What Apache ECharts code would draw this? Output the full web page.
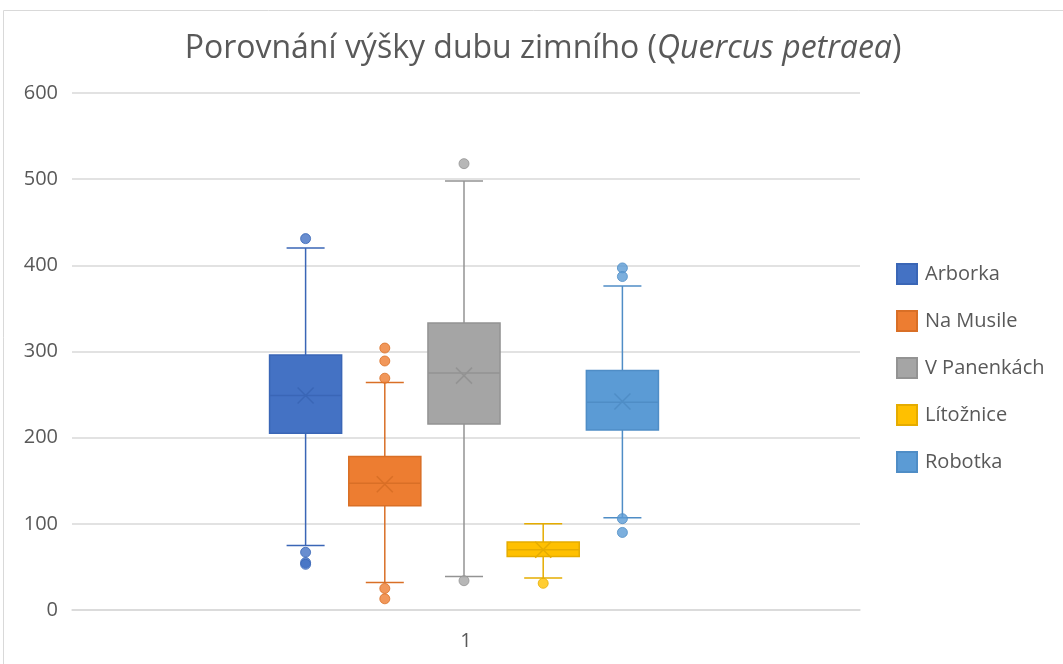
<!DOCTYPE html>
<html>
<head>
<meta charset="utf-8">
<script src="https://cdn.jsdelivr.net/npm/echarts@6/dist/echarts.min.js"></script>
<style>
  html, body { margin: 0; padding: 0; background: #fff; }
  #chart { width: 1063px; height: 664px; }
</style>
</head>
<body>
<div id="chart"></div>
<script>
// data
const sites = ['Arborka', 'Na Musile', 'V Panenkách', 'Lítožnice', 'Robotka'];
const lowWhisker = [75, 32, 39, 37, 107];
const q1 = [205, 121, 216, 62, 209];
const median = [249, 147, 275, 70, 241];
const q3 = [296, 178, 333, 79, 278];
const highWhisker = [420, 264, 498, 100, 376];
const means = [249, 146, 272, 70, 242];
const outliers = [
  [431, 67, 55, 53],
  [304, 289, 269, 25, 13],
  [518, 34],
  [31],
  [397, 387, 106, 90]
];
const xLabels = ['1'];
const yTicks = { min: 0, max: 600, interval: 100 };

const fills = ['#4472C4', '#ED7D31', '#A5A5A5', '#FFC000', '#5B9BD5'];
const strokes = ['#3a66b6', '#d96f26', '#939393', '#e5ac00', '#4f8dc6'];
const txt = '#595959';
const font = '"Open Sans", "Noto Sans", sans-serif';

function makeRender(i) {
  return function (params, api) {
    const c = api.value(0);
    const cx = api.coord([c, 0])[0];
    const y = v => api.coord([c, v])[1];
    const yLo = y(api.value(1)), yQ1 = y(api.value(2)), yMd = y(api.value(3));
    const yQ3 = y(api.value(4)), yHi = y(api.value(5)), yMn = y(api.value(6));
    const band = api.size([1, 0])[0];
    const half = band * 0.455, cap = band * 0.24, xs = 8;
    const ln = { stroke: strokes[i], lineWidth: 1.5 };
    return {
      type: 'group',
      children: [
        { type: 'line', shape: { x1: cx, y1: yHi, x2: cx, y2: yQ3 }, style: ln },
        { type: 'line', shape: { x1: cx, y1: yQ1, x2: cx, y2: yLo }, style: ln },
        { type: 'line', shape: { x1: cx - cap, y1: yHi, x2: cx + cap, y2: yHi }, style: ln },
        { type: 'line', shape: { x1: cx - cap, y1: yLo, x2: cx + cap, y2: yLo }, style: ln },
        { type: 'rect', shape: { x: cx - half, y: yQ3, width: half * 2, height: yQ1 - yQ3 },
          style: { fill: fills[i], stroke: strokes[i], lineWidth: 1.5 } },
        { type: 'line', shape: { x1: cx - half, y1: yMd, x2: cx + half, y2: yMd }, style: ln },
        { type: 'line', shape: { x1: cx - xs, y1: yMn - xs, x2: cx + xs, y2: yMn + xs }, style: ln },
        { type: 'line', shape: { x1: cx - xs, y1: yMn + xs, x2: cx + xs, y2: yMn - xs }, style: ln }
      ]
    };
  };
}

const series = [];
sites.forEach(function (name, i) {
  series.push({
    name: name,
    type: 'custom',
    xAxisIndex: 1,
    yAxisIndex: 1,
    itemStyle: { color: fills[i], borderColor: strokes[i], borderWidth: 1 },
    encode: { x: 0, y: [1, 2, 3, 4, 5, 6] },
    data: [[i, lowWhisker[i], q1[i], median[i], q3[i], highWhisker[i], means[i]]],
    renderItem: makeRender(i),
    z: 2
  });
  series.push({
    name: name,
    type: 'scatter',
    xAxisIndex: 1,
    yAxisIndex: 1,
    symbolSize: 10,
    itemStyle: { color: fills[i], borderColor: strokes[i], borderWidth: 1 },
    data: outliers[i].map(v => [i, v]),
    z: 3
  });
});

const chart = echarts.init(document.getElementById('chart'), null, { renderer: 'canvas' });
chart.setOption({
  animation: false,
  textStyle: { fontFamily: font },
  title: {
    text: '{n|Porovnání výšky dubu zimního (}{i|Quercus petraea}{n|)}',
    left: 538,
    top: 28,
    textAlign: 'center',
    textStyle: {
      fontWeight: 'normal',
      rich: {
        n: { fontSize: 32, color: txt, fontFamily: font, fontWeight: 'normal' },
        i: { fontSize: 32, color: txt, fontFamily: font, fontWeight: 'normal', fontStyle: 'italic' }
      }
    }
  },
  legend: {
    orient: 'vertical',
    left: 896,
    top: 263,
    padding: 0,
    itemWidth: 20,
    itemHeight: 20,
    itemGap: 25,
    icon: 'rect',
    data: sites,
    textStyle: { color: txt, fontSize: 20, fontFamily: font, padding: [0, 0, 0, 3] }
  },
  grid: [
    { left: 72, right: 203, top: 93, bottom: 54 },
    { left: 266, width: 396, top: 93, bottom: 54 }
  ],
  xAxis: [
    {
      type: 'category', gridIndex: 0, data: xLabels,
      axisLine: { lineStyle: { color: '#d9d9d9', width: 1.5 } },
      axisTick: { show: false },
      axisLabel: { color: txt, fontSize: 20, margin: 21 }
    },
    { type: 'category', gridIndex: 1, data: sites, show: false }
  ],
  yAxis: [
    {
      type: 'value', gridIndex: 0, min: yTicks.min, max: yTicks.max, interval: yTicks.interval,
      axisLine: { show: false }, axisTick: { show: false },
      axisLabel: { color: txt, fontSize: 20, margin: 14 },
      splitLine: { lineStyle: { color: '#d9d9d9', width: 1.5 } }
    },
    { type: 'value', gridIndex: 1, min: yTicks.min, max: yTicks.max, show: false, splitLine: { show: false } }
  ],
  graphic: [{
    type: 'rect',
    shape: { x: 3.5, y: 10.5, width: 1200, height: 800 },
    style: { fill: 'none', stroke: '#d9d9d9', lineWidth: 1 },
    silent: true
  }],
  series: series
});
</script>
</body>
</html>
